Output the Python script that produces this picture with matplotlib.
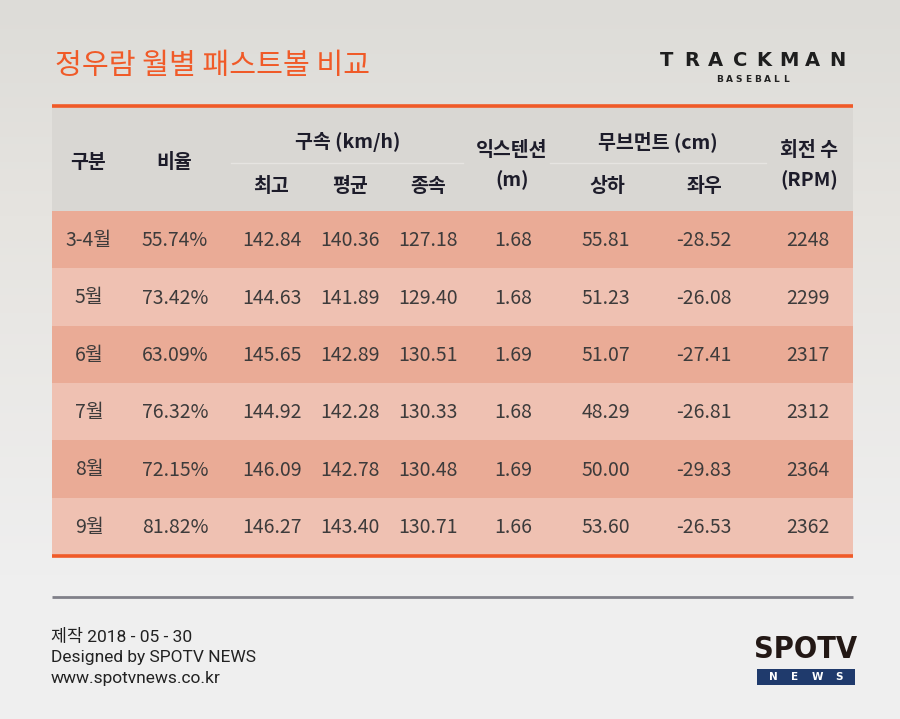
import numpy as np
import matplotlib
matplotlib.use("Agg")
import matplotlib.pyplot as plt
from matplotlib.patches import Rectangle

# table data
months = ['3-4월', '5월', '6월', '7월', '8월', '9월']
ratio = [55.74, 73.42, 63.09, 76.32, 72.15, 81.82]
speed_max = [142.84, 144.63, 145.65, 144.92, 146.09, 146.27]
speed_avg = [140.36, 141.89, 142.89, 142.28, 142.78, 143.40]
speed_end = [127.18, 129.40, 130.51, 130.33, 130.48, 130.71]
extension = [1.68, 1.68, 1.69, 1.68, 1.69, 1.66]
move_v = [55.81, 51.23, 51.07, 48.29, 50.00, 53.60]
move_h = [-28.52, -26.08, -27.41, -26.81, -29.83, -26.53]
spin = [2248, 2299, 2317, 2312, 2364, 2362]

title = '정우람 월별 패스트볼 비교'
footer = ['제작 2018 - 05 - 30', 'Designed by SPOTV NEWS', 'www.spotvnews.co.kr']

KR = ['Noto Sans CJK KR', 'DejaVu Sans']
ORANGE = '#f05a28'
TXT = '#3d3b3b'
HEAD = '#1d1c2a'

fig = plt.figure(figsize=(9, 7.19), dpi=100)
ax = fig.add_axes([0, 0, 1, 1])
ax.set_xlim(0, 900)
ax.set_ylim(719, 0)
ax.axis('off')

# background: soft vertical gradient
yy = np.linspace(0, 1, 200)[:, None]
top = np.array([221, 220, 216]) / 255
mid = np.array([230, 228, 224]) / 255
bot = np.array([239, 239, 239]) / 255
w = np.clip(yy / 0.3, 0, 1)
w2 = np.clip((yy - 0.3) / 0.5, 0, 1)
grad = top * (1 - w) + mid * w
grad = grad * (1 - w2) + bot * w2
ax.imshow(np.repeat(grad[:, None, :], 2, axis=1).reshape(200, 2, 3),
          extent=[0, 900, 719, 0], aspect='auto', zorder=0)

# title + trackman logo
ax.text(55, 66, title, family=KR, fontsize=21, color=ORANGE, va='center', ha='left')
for i, ch in enumerate('TRACKMAN'):
    ax.text(667 + i * 24.3, 60, ch, family='DejaVu Sans', fontsize=14, weight='bold',
            color='#1e1e1e', ha='center', va='center')
for i, ch in enumerate('BASEBALL'):
    ax.text(720 + i * 9.4, 79, ch, family='DejaVu Sans', fontsize=6.5,
            weight='bold', color='#222222', ha='center', va='center')

# table geometry
left, right = 52, 853
head_top, head_bot = 107, 211
row_h = (555 - head_bot) / len(months)
ax.add_patch(Rectangle((left, head_top), right - left, head_bot - head_top,
                       fc='#d9d7d3', ec='none', zorder=1))
row_colors = ['#eaab96', '#efc1b2']
for i in range(len(months)):
    ax.add_patch(Rectangle((left, head_bot + i * row_h), right - left, row_h,
                           fc=row_colors[i % 2], ec='none', zorder=1))
ax.plot([left, right], [105.5, 105.5], color=ORANGE, lw=2.6, solid_capstyle='butt', zorder=3)
ax.plot([left, right], [555.5, 555.5], color=ORANGE, lw=2.6, solid_capstyle='butt', zorder=3)

# header
hk = dict(family=KR, fontsize=14, weight='bold', color=HEAD, ha='center', va='center')
ax.text(88, 163, '구분', **hk)
ax.text(174, 163, '비율', **hk)
ax.text(348, 142, '구속 (km/h)', **hk)
ax.plot([231, 463], [163, 163], color='#e6e4e1', lw=1, zorder=2)
ax.text(271, 186, '최고', **hk)
ax.text(350, 186, '평균', **hk)
ax.text(428, 186, '종속', **hk)
ax.text(512, 151, '익스텐션', **hk)
ax.text(512, 180, '(m)', **hk)
ax.text(658, 142, '무브먼트 (cm)', **hk)
ax.plot([550, 766], [163, 163], color='#e6e4e1', lw=1, zorder=2)
ax.text(607, 186, '상하', **hk)
ax.text(704, 186, '좌우', **hk)
ax.text(809, 151, '회전 수', **hk)
ax.text(809, 180, '(RPM)', **hk)

# rows
col_x = [89, 175, 272, 350, 428, 513, 606, 704, 808]
dk = dict(family=KR, fontsize=14, color=TXT, ha='center', va='center')
for i in range(len(months)):
    y = head_bot + (i + 0.5) * row_h + 1
    vals = [months[i], f'{ratio[i]:.2f}%', f'{speed_max[i]:.2f}', f'{speed_avg[i]:.2f}',
            f'{speed_end[i]:.2f}', f'{extension[i]:.2f}', f'{move_v[i]:.2f}',
            f'{move_h[i]:.2f}', f'{spin[i]}']
    for x, v in zip(col_x, vals):
        ax.text(x, y, v, zorder=4, **dk)

# footer
ax.plot([left, right], [596.5, 596.5], color='#808089', lw=2, solid_capstyle='butt', zorder=3)
fk = dict(family=['Roboto', 'Noto Sans CJK KR'], fontsize=12.5,
          color='#222222', ha='left', va='center')
for i, line in enumerate(footer):
    ax.text(51, 637 + i * 20.5, line, **fk)

# SPOTV logo
ax.text(806, 649, 'SPOTV', family='DejaVu Sans', fontstretch='condensed', weight='bold',
        fontsize=22, color='#231815', ha='center', va='center', zorder=5)
ax.add_patch(Rectangle((757, 669), 98, 15.5, fc='#1f3a6c', ec='none', zorder=4))
for i, ch in enumerate('NEWS'):
    ax.text(773 + i * 22, 677, ch, family='DejaVu Sans', fontsize=7.5, weight='bold',
            color='white', ha='center', va='center', zorder=6)

fig.savefig('out.png', dpi=100)
